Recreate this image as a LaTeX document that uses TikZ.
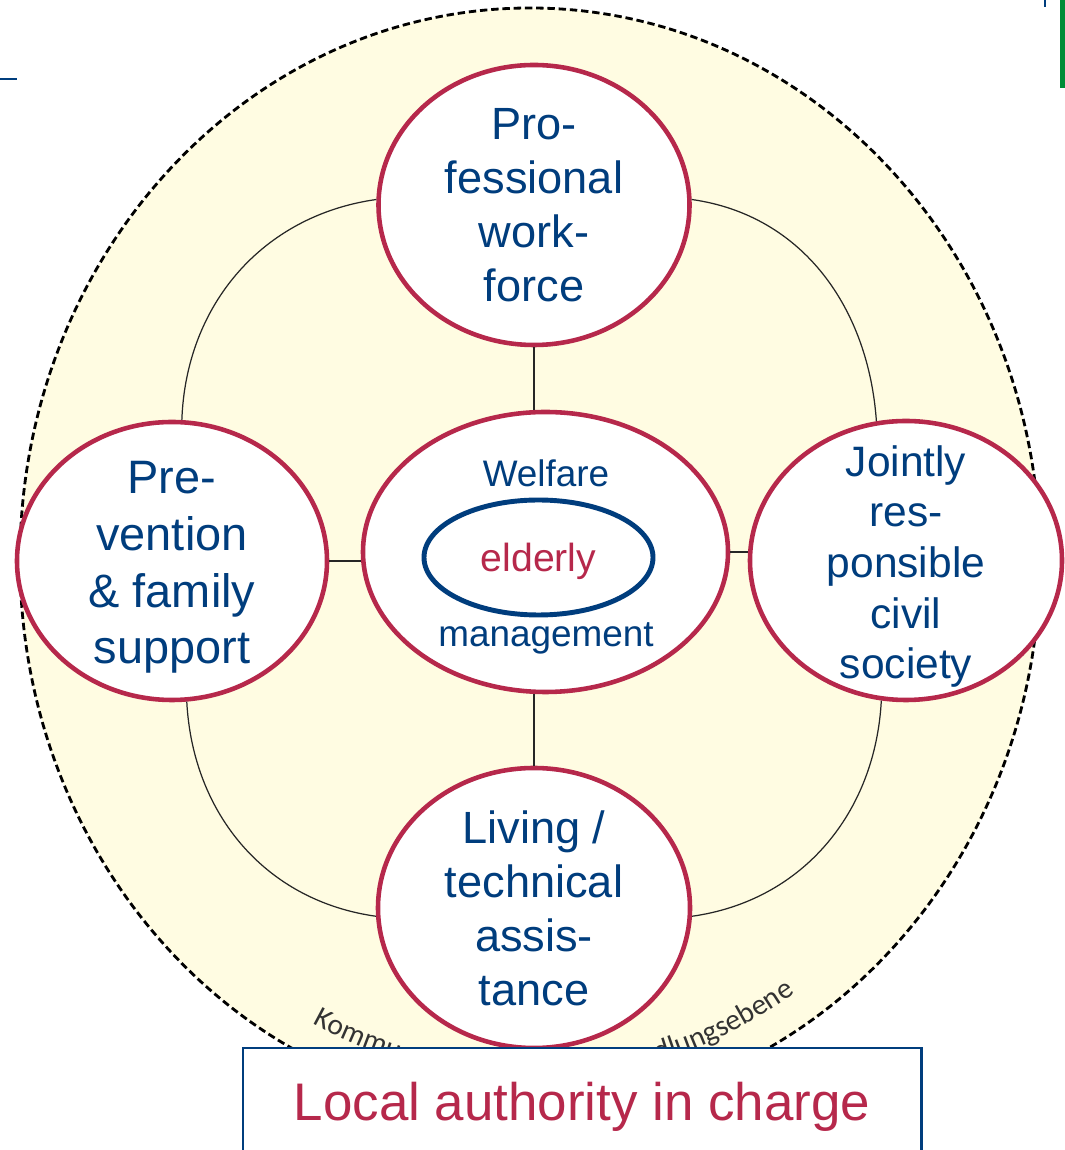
\documentclass[tikz,border=0pt]{standalone}
\usepackage{fontspec}
\setmainfont{Liberation Sans}
\newfontfamily\levelfont{Carlito}
\usetikzlibrary{shapes.geometric,decorations.text}

\definecolor{slideblue}{RGB}{0,61,125}
\definecolor{slidered}{RGB}{182,40,75}
\definecolor{slidegreen}{RGB}{0,140,54}
\definecolor{areafill}{RGB}{255,252,226}

\tikzset{
  ring/.style={ellipse, draw=slidered, line width=2.6pt, fill=white, inner sep=0pt},
  ringtext/.style={align=center, text=slideblue, inner sep=0pt},
  link/.style={draw=black!85, line width=0.7pt},
}

\begin{document}
\begin{tikzpicture}
        \path[use as bounding box, clip] (0,0) rectangle (21.3,23);

        %Slide bits
        \fill[slidegreen] (21.2,21.24) rectangle (21.3,23);
        \fill[slideblue] (20.88,22.86) rectangle (20.92,23);
        \fill[slideblue] (0,21.40) rectangle (0.33,21.44);

        %Local level
        \draw[dash pattern=on 4.2pt off 2.2pt, line width=1.6pt, fill=areafill]
          (10.6,11.8) ellipse [x radius=10.2, y radius=11.04];
        \path[decorate, decoration={text along path, text color=black!80, text align=left,
          text={|\levelfont\fontsize{16.8}{19}\selectfont|Kommunale}}]
          (10.6,11.8) ++(243:9.6 and 10.4) arc [start angle=243, end angle=303.5, x radius=9.6, y radius=10.4];
        \path[decorate, decoration={text along path, text color=black!80, text align=right,
          text={|\levelfont\fontsize{16.8}{19}\selectfont|Handlungsebene}}]
          (10.6,11.8) ++(243:9.6 and 10.4) arc [start angle=243, end angle=303.5, x radius=9.6, y radius=10.4];

        %Top
        \node[ring, minimum width=6.22cm, minimum height=5.6cm] (work) at (10.68,18.9) {};
        \node[ringtext, font=\fontsize{25.7}{30.7}\selectfont] at (work) {Pro-\\fessional\\work-\\force};
        %Left
        \node[ring, minimum width=6.2cm, minimum height=5.56cm] (prevention) at (3.44,11.78) {};
        \node[ringtext, font=\fontsize{26.7}{32.3}\selectfont] at (3.44,11.65) {Pre-\\vention\\\& family\\support};
        %Centre
        \node[ring, minimum width=7.3cm, minimum height=5.6cm] (welfare) at (10.91,11.96) {};
        \node[ringtext, font=\fontsize{21}{25}\selectfont] (welfaretop) at (10.92,13.54) {Welfare};
        \node[ellipse, draw=slideblue, line width=2.8pt, minimum width=4.58cm, minimum height=2.3cm,
          text=slidered, text depth=0pt, font=\fontsize{22.3}{26}\selectfont] (elderly) at (10.77,11.85) {elderly};
        \node[ringtext, font=\fontsize{21}{25}\selectfont] (welfarebottom) at (10.92,10.24) {management};
        %Right
        \node[ring, minimum width=6.24cm, minimum height=5.58cm] (society) at (18.12,11.79) {};
        \node[ringtext, font=\fontsize{24.2}{28.8}\selectfont] at (18.12,11.67) {Jointly\\res-\\ponsible\\civil\\society};
        %Bottom
        \node[ring, minimum width=6.24cm, minimum height=5.6cm] (assistance) at (10.68,4.84) {};
        \node[ringtext, font=\fontsize{25.7}{30.7}\selectfont] at (assistance) {Living /\\technical\\assis-\\tance};

        %Links
        \draw[link] (work.south) -- (work.south |- welfare.north);
        \draw[link] (prevention.east) -- (prevention.east -| welfare.west);
        \draw[link] (welfare.east) -- (welfare.east -| society.west);
        \draw[link] (welfare.south -| assistance.north) -- (assistance.north);
        \draw[link] (work.178) to[out=188, in=88] (prevention.86);
        \draw[link] (work.2) to[out=-8, in=94] (society.102);
        \draw[link] (prevention.276) to[out=273, in=172] (assistance.183);
        \draw[link] (assistance.357) to[out=8, in=267] (society.260);

        %Authority
        \node[draw=slideblue, line width=1.7pt, fill=white, minimum width=13.56cm, minimum height=2.34cm,
          text=slidered, font=\fontsize{30.1}{36}\selectfont] (authority) at (11.64,0.87) {Local authority in charge};
\end{tikzpicture}
\end{document}
